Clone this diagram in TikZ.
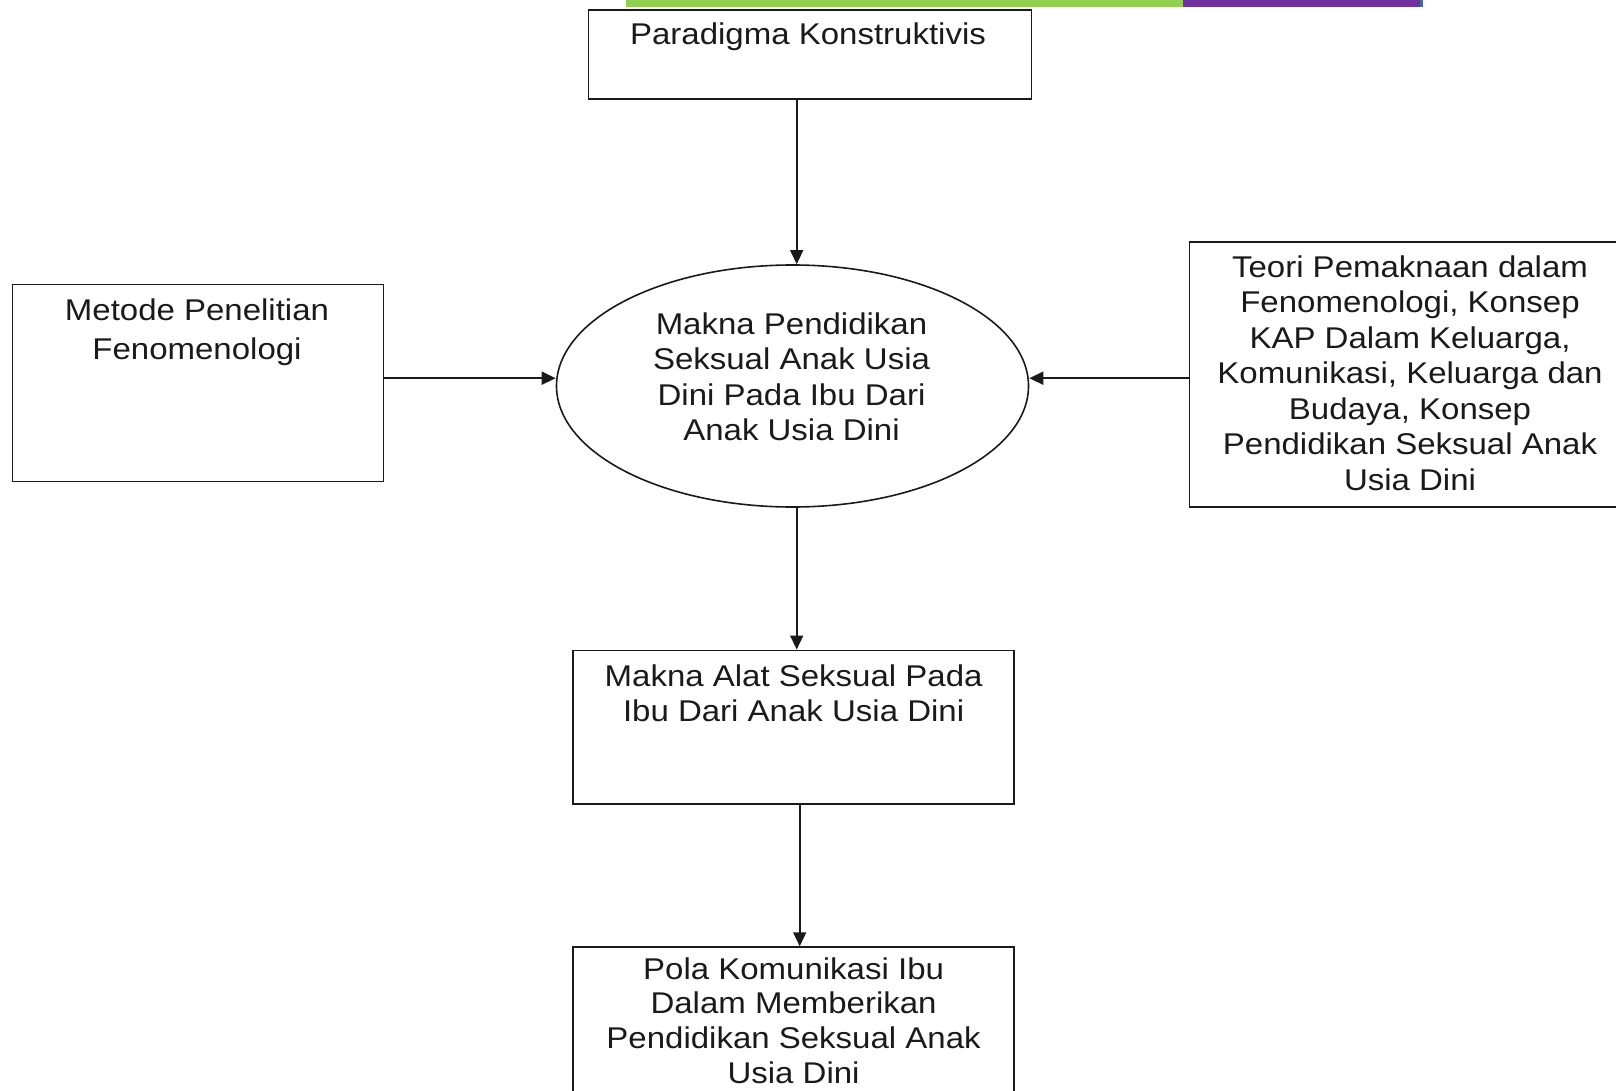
\documentclass[tikz,border=0pt]{standalone}
\usepackage{fontspec}
\setmainfont{Liberation Sans}[FakeStretch=1.1]
\usetikzlibrary{shapes.geometric,arrows.meta}
\definecolor{bargreen}{HTML}{92D050}
\definecolor{barpurple}{HTML}{7030A0}
\definecolor{barblue}{HTML}{3F6A9A}
\definecolor{ink}{HTML}{1A1A1A}
\tikzset{
  box/.style={draw=ink, line width=0.8pt, rectangle, inner sep=0pt},
  oval/.style={draw=ink, line width=0.8pt, ellipse, inner sep=0pt},
  txt/.style={anchor=north, align=center, inner sep=0pt, text=ink,
    font=\fontsize{15}{17.75}\selectfont},
  arr/.style={draw=ink, line width=0.8pt, -{Triangle[length=7pt,width=6.5pt]}}
}
\begin{document}
\begin{tikzpicture}[x=0.5pt, y=-0.5pt]
\useasboundingbox (0,0) rectangle (1616,1091);
\clip (0,0) rectangle (1616,1091);
% top colour bar
\fill[bargreen] (625.6,0) rectangle (1183.1,7.5);
\fill[barpurple] (1183.1,0) rectangle (1420.2,7.5);
\fill[barblue] (1420.2,0) rectangle (1423.3,7.5);
% shapes
\node[box, minimum width=221.55pt, minimum height=44.3pt] (par) at (810.05,54.6) {};
\node[box, minimum width=185.5pt, minimum height=98.45pt] (met) at (197.9,382.85) {};
\node[box, minimum width=225.35pt, minimum height=132.4pt] (teo) at (1414.65,374.6) {};
\node[oval, minimum width=236pt, minimum height=121pt] (ell) at (792.5,386) {};
\node[box, minimum width=220.55pt, minimum height=76.8pt] (ala) at (793.55,727.1) {};
\node[box, minimum width=220.55pt, minimum height=86.45pt] (pol) at (793.55,1033.55) {};
% texts
\node[txt] (tpar) at (808,22) {Paradigma Konstruktivis};
\node[txt, font=\fontsize{15}{19.5}\selectfont] (tmet) at (197,298) {Metode Penelitian\\Fenomenologi};
\node[txt] (tell) at (791.5,312) {Makna Pendidikan\\Seksual Anak Usia\\Dini Pada Ibu Dari\\Anak Usia Dini};
\node[txt] (tteo) at (1410,255) {Teori Pemaknaan dalam\\Fenomenologi, Konsep\\KAP Dalam Keluarga,\\Komunikasi, Keluarga dan\\Budaya, Konsep\\Pendidikan Seksual Anak\\Usia Dini};
\node[txt] (tala) at (793.6,664) {Makna Alat Seksual Pada\\Ibu Dari Anak Usia Dini};
\node[txt, font=\fontsize{15}{17.4}\selectfont] (tpol) at (793.6,957) {Pola Komunikasi Ibu\\Dalam Memberikan\\Pendidikan Seksual Anak\\Usia Dini};
% connectors
\coordinate (ax1) at (796.7,0);
\coordinate (ax2) at (799.7,0);
\coordinate (hy) at (0,378.2);
\draw[arr] (par.south -| ax1) -- (ell.north -| ax1);
\draw[arr] (met.east |- hy) -- (ell.west |- hy);
\draw[arr] (teo.west |- hy) -- (ell.east |- hy);
\draw[arr] (ell.south -| ax1) -- (ala.north -| ax1);
\draw[arr] (ala.south -| ax2) -- (pol.north -| ax2);
\end{tikzpicture}
\end{document}
